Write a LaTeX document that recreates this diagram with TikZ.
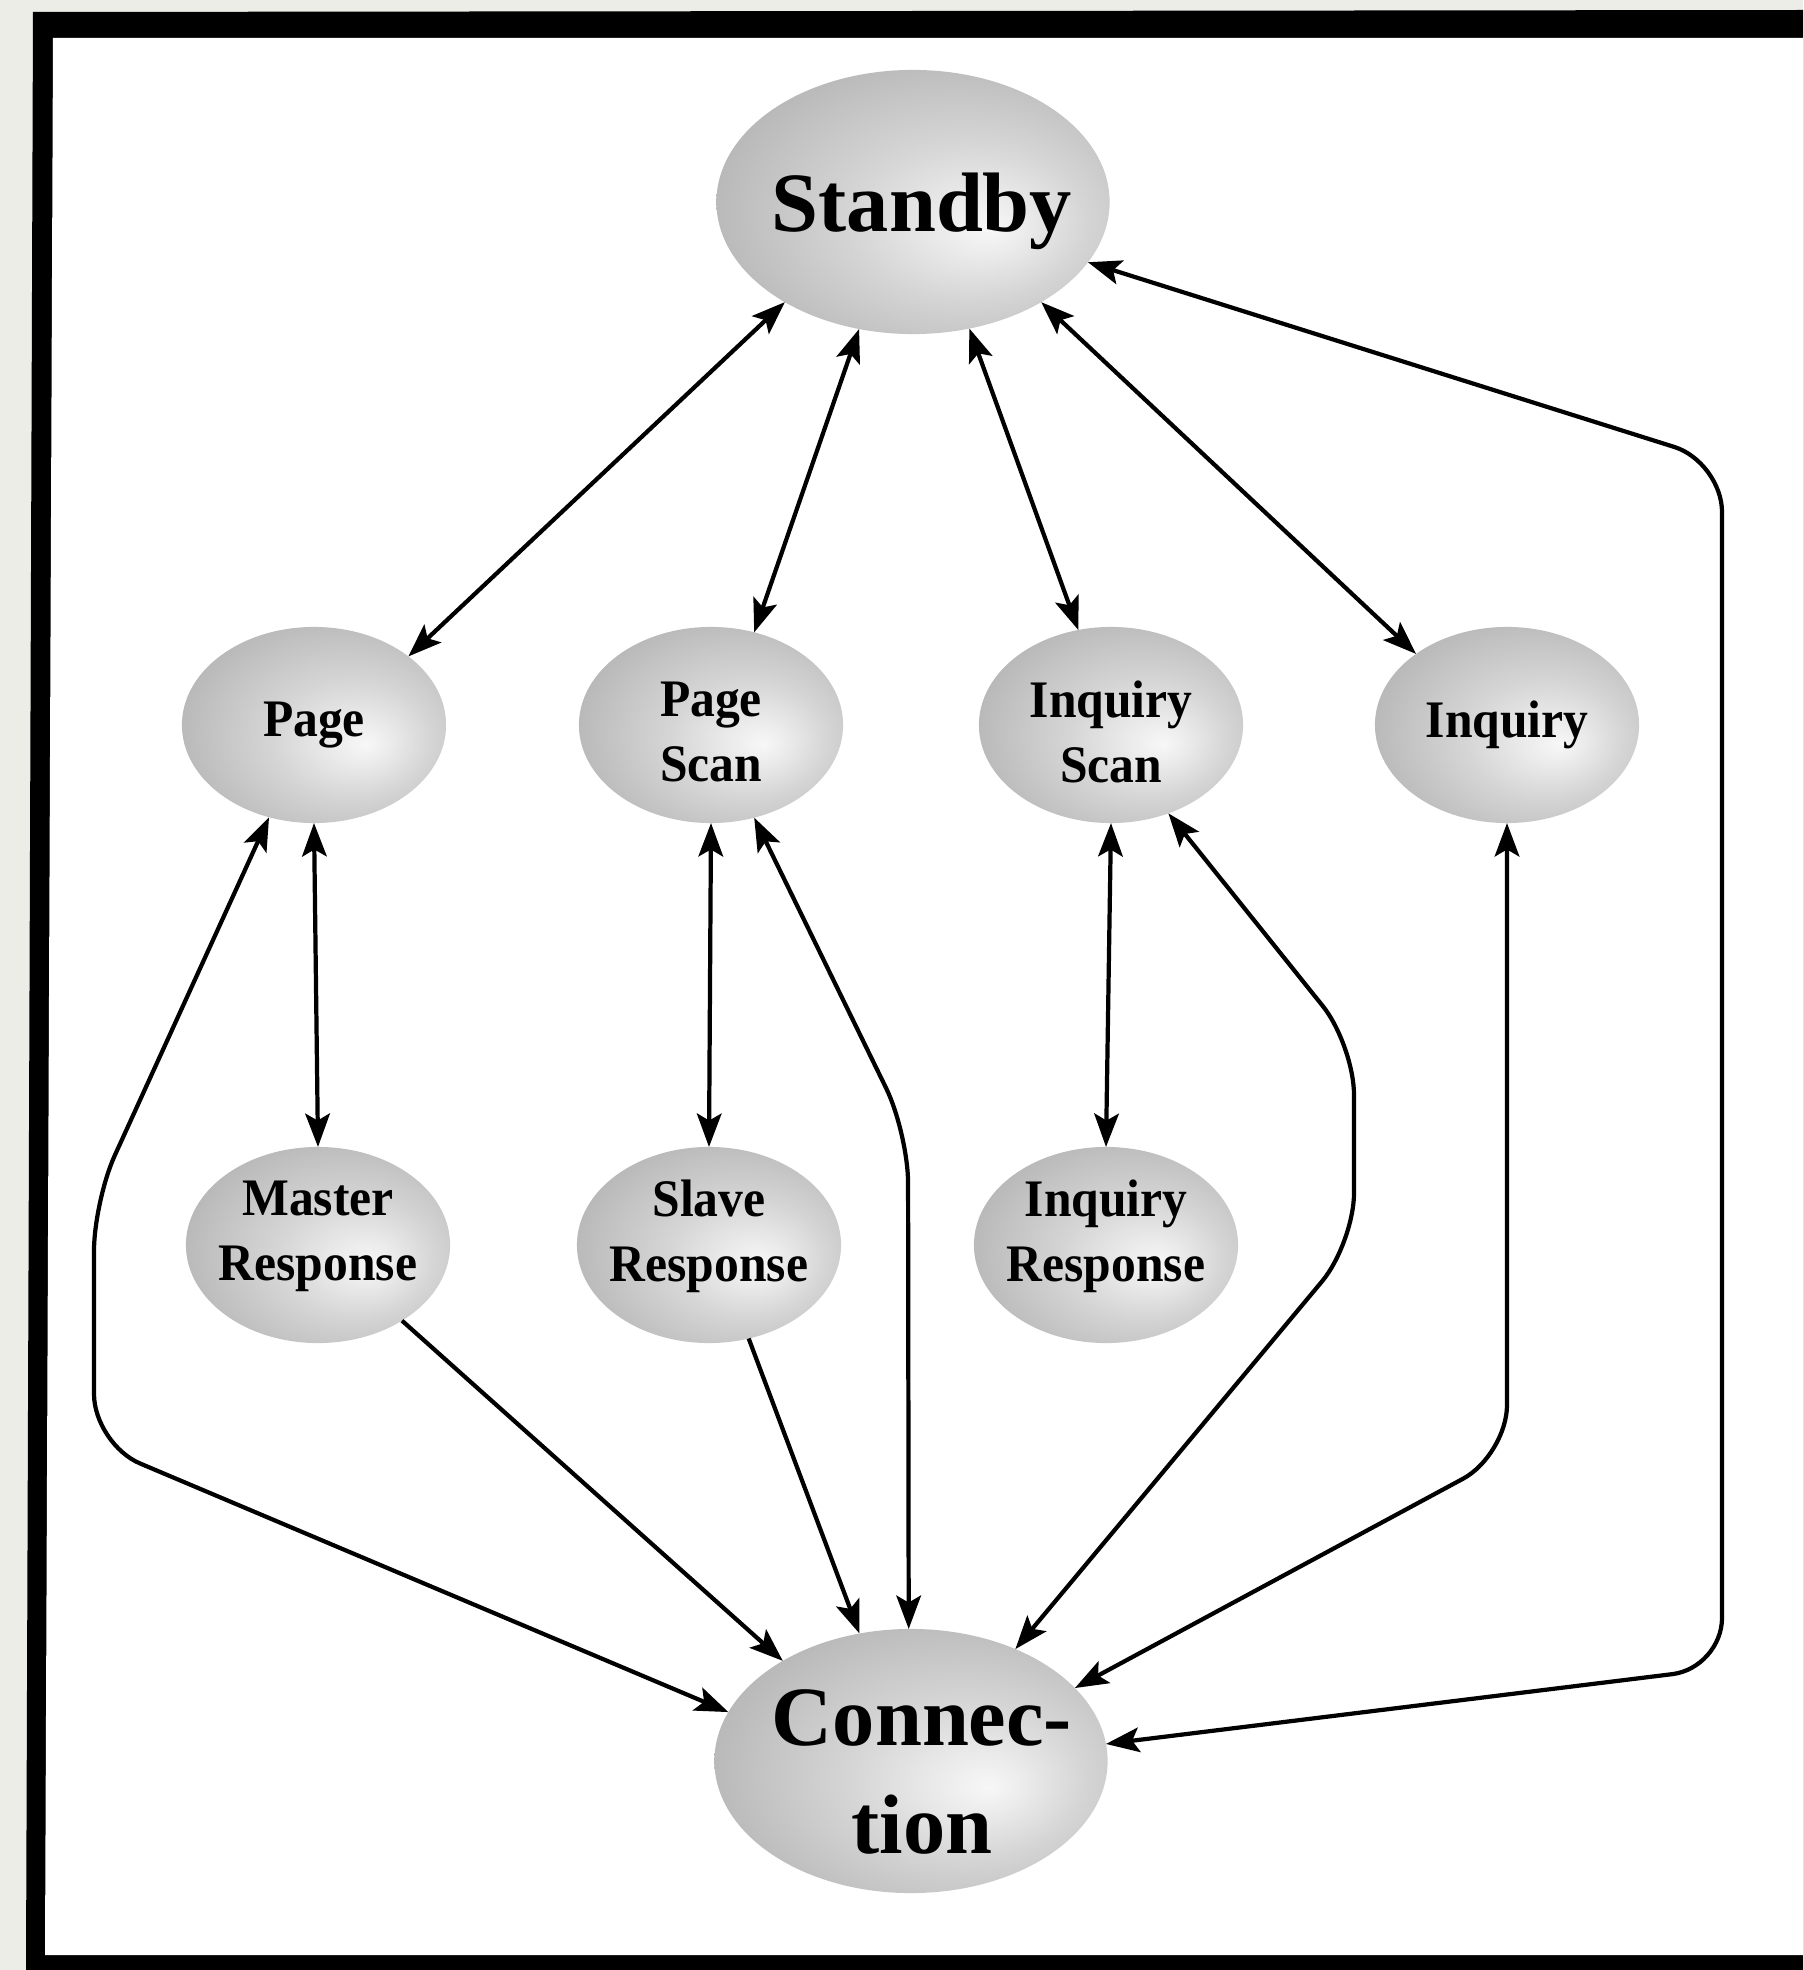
\documentclass[tikz,border=0pt]{standalone}
\usepackage{fontspec}
\setmainfont{Liberation Serif}
\newfontfamily\midfont[FakeStretch=0.94]{Liberation Serif}
\usetikzlibrary{arrows.meta,calc,shapes.geometric}

\definecolor{bgpaper}{HTML}{EDEDE8}
\definecolor{shA}{HTML}{F7F7F7}
\definecolor{shB}{HTML}{EAEAEA}
\definecolor{shC}{HTML}{D5D5D5}
\definecolor{shD}{HTML}{C2C2C2}
\definecolor{shE}{HTML}{AEAEAE}
\pgfdeclareradialshading{nodeshade}{\pgfpoint{10bp}{-5bp}}{color(0bp)=(shA); color(6bp)=(shB); color(15bp)=(shC); color(25bp)=(shD); color(35bp)=(shE); color(50bp)=(shE)}

\tikzset{
  statenode/.style={ellipse, shade, shading=nodeshade, inner sep=0pt, outer sep=0pt},
  bignode/.style={statenode, minimum width=3.93cm, minimum height=2.64cm},
  midnode/.style={statenode, minimum width=2.64cm, minimum height=1.96cm},
  bigtxt/.style={font=\fontsize{24}{30.7}\selectfont\bfseries, align=center, inner sep=0pt},
  midtxt/.style={font=\midfont\fontsize{15}{18.5}\selectfont\bfseries, align=center, inner sep=0pt},
  link/.style={draw=black, line width=1.2pt, rounded corners=0.5cm},
  >={Stealth[length=9.5pt,width=7pt,inset=2pt]}
}

\begin{document}
\begin{tikzpicture}[x=0.01cm,y=-0.01cm]
\useasboundingbox (0,0) rectangle (1803,1970);
% paper and frame
\fill[bgpaper] (0,0) rectangle (1803,1970);
\fill[black] (33,12) -- (1803,10) -- (1803,1970) -- (26,1970) -- cycle;
\fill[white] (53,38) -- (1803,38) -- (1803,1955) -- (45,1955) -- cycle;

% state ellipses
\node[bignode] (standby) at (913,202) {};
\node[bignode] (conn) at (911,1761) {};
\node[midnode] (page) at (314,725) {};
\node[midnode] (pscan) at (711,725) {};
\node[midnode] (iscan) at (1111,725) {};
\node[midnode] (inq) at (1507,725) {};
\node[midnode] (master) at (318,1245) {};
\node[midnode] (slave) at (709,1245) {};
\node[midnode] (iresp) at (1106,1245) {};

% texts
\node[bigtxt] (standby-t) at (922,211) {Standby};
\node[bigtxt] (conn-t) at (922,1772) {Connec-\\tion};
\node[midtxt] (page-t) at (314,725) {Page};
\node[midtxt] (pscan-t) at (711,732) {Page\\Scan};
\node[midtxt] (iscan-t) at (1111,732) {Inquiry\\Scan};
\node[midtxt] (inq-t) at (1507,725) {Inquiry};
\node[midtxt] (master-t) at (318,1236) {Master\\Response};
\node[midtxt] (slave-t) at (709,1236) {Slave\\Response};
\node[midtxt] (iresp-t) at (1106,1236) {Inquiry\\Response};

% bend points
\coordinate (r1) at (1722,462);
\coordinate (r2) at (1722,1668);
\coordinate (l1) at (94,1201);
\coordinate (l2) at (94,1444);
\coordinate (m1) at (908,1133);
\coordinate (s1) at (1354,1045);
\coordinate (s2) at (1354,1243);
\coordinate (q1) at (1507,1455);

% connectors
\draw[link,<->] (standby.218) -- (page.36);
\draw[link,<->] (standby.247) -- (pscan.65);
\draw[link,<->] (standby.294) -- (iscan.109);
\draw[link,<->] (standby.322) -- (inq.142);
\draw[link,<->] (standby.341) -- (r1) -- (r2) -- (conn.5);
\draw[link,<->] (page.south) -- (master.north);
\draw[link,<->] (page.244) -- (l1) -- (l2) -- (conn.165);
\draw[link,<->] (pscan.south) -- (slave.north);
\draw[link,<->] (pscan.295) -- (m1) -- (conn.91);
\draw[link,<->] (iscan.south) -- (iresp.north);
\draw[link,<->] (iscan.303) -- (s1) -- (s2) -- (conn.47);
\draw[link,<->] (inq.south) -- (q1) -- (conn.24);
\draw[link,->] (master.318) -- (conn.142);
\draw[link,->] (slave.293) -- (conn.112);
\end{tikzpicture}
\end{document}
